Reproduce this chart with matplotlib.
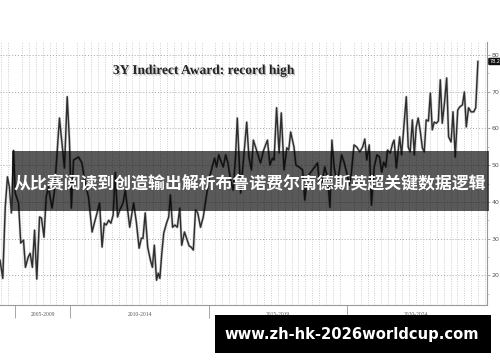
import matplotlib
matplotlib.use('Agg')
import matplotlib.pyplot as plt
import matplotlib.patheffects as pe
from matplotlib.patches import Rectangle
from matplotlib.ticker import MultipleLocator
import matplotlib.transforms as mtrans

# auction dates (decimal years) and indirect award share (%)
years = [
    2007.46, 2007.56, 2007.65, 2007.73, 2007.80, 2007.87, 2007.95, 2008.01, 2008.13, 2008.21,
    2008.31, 2008.38, 2008.48, 2008.55, 2008.63, 2008.71, 2008.79, 2008.89, 2008.96, 2009.05,
    2009.13, 2009.21, 2009.34, 2009.42, 2009.49, 2009.61, 2009.79, 2009.89, 2009.97, 2010.04,
    2010.12, 2010.30, 2010.42, 2010.54, 2010.66, 2010.79, 2010.88, 2010.97, 2011.06, 2011.15,
    2011.23, 2011.30, 2011.39, 2011.47, 2011.55, 2011.63, 2011.71, 2011.79, 2011.91, 2011.99,
    2012.15, 2012.29, 2012.39, 2012.49, 2012.57, 2012.63, 2012.71, 2012.80, 2012.90, 2012.97,
    2013.04, 2013.12, 2013.18, 2013.24, 2013.31, 2013.38, 2013.48, 2013.56, 2013.62, 2013.70,
    2013.78, 2013.87, 2013.96, 2014.03, 2014.13, 2014.23, 2014.30, 2014.37, 2014.45, 2014.53,
    2014.61, 2014.71, 2014.81, 2014.90, 2015.01, 2015.13, 2015.22, 2015.29, 2015.37, 2015.46,
    2015.53, 2015.62, 2015.70, 2015.80, 2015.89, 2015.98, 2016.04, 2016.16, 2016.27, 2016.38,
    2016.46, 2016.55, 2016.62, 2016.70, 2016.79, 2016.88, 2016.99, 2017.13, 2017.22, 2017.31,
    2017.37, 2017.46, 2017.55, 2017.63, 2017.73, 2017.83, 2017.90, 2017.97, 2018.09, 2018.16,
    2018.27, 2018.40, 2018.48, 2018.58, 2018.70, 2018.84, 2018.94, 2019.02, 2019.12, 2019.20,
    2019.30, 2019.39, 2019.46, 2019.54, 2019.64, 2019.72, 2019.81, 2019.90, 2020.00, 2020.08,
    2020.15, 2020.26, 2020.36, 2020.47, 2020.57, 2020.65, 2020.72, 2020.81, 2020.89, 2020.99,
    2021.09, 2021.18, 2021.26, 2021.33, 2021.41, 2021.47, 2021.57, 2021.66, 2021.71, 2021.79,
    2021.91, 2021.98, 2022.08, 2022.15, 2022.22, 2022.29, 2022.37, 2022.44, 2022.51, 2022.58,
    2022.66, 2022.73, 2022.80, 2022.87, 2022.95, 2023.02, 2023.09, 2023.16, 2023.24, 2023.31,
    2023.38, 2023.45, 2023.53, 2023.61, 2023.68, 2023.77, 2023.84, 2023.92, 2024.01, 2024.08,
    2024.18, 2024.25, 2024.32, 2024.40, 2024.49, 2024.59, 2024.66, 2024.74,
]
award = [
    24.1, 19.2, 38.6, 46.8, 44.0, 37.0, 54.0, 42.4, 39.7, 28.8,
    29.6, 22.2, 25.0, 26.0, 22.2, 32.3, 19.0, 35.9, 35.6, 30.4,
    41.3, 44.0, 38.3, 42.4, 49.5, 62.8, 49.2, 68.6, 56.8, 38.3,
    51.4, 52.2, 50.6, 45.1, 41.3, 31.8, 34.5, 37.0, 39.7, 27.7,
    34.2, 33.7, 35.0, 34.2, 36.4, 48.0, 35.9, 37.8, 39.7, 43.2,
    33.1, 39.7, 34.5, 27.4, 30.1, 30.1, 37.0, 27.7, 24.1, 22.2,
    28.2, 18.7, 20.6, 19.2, 26.0, 31.5, 34.2, 35.9, 41.9, 33.1,
    33.7, 33.1, 38.3, 28.2, 31.8, 29.6, 28.0, 27.7, 26.9, 37.8,
    37.0, 33.1, 35.9, 40.5, 45.9, 49.5, 51.9, 49.5, 52.8, 50.8,
    49.5, 52.8, 50.6, 45.9, 43.2, 52.8, 62.8, 42.4, 52.0, 61.7,
    52.2, 48.7, 56.8, 54.9, 52.8, 50.6, 54.0, 56.8, 50.0, 51.9,
    51.4, 65.6, 53.3, 64.2, 48.7, 54.7, 54.1, 59.0, 54.9, 50.0,
    49.5, 48.7, 40.5, 46.8, 48.1, 49.5, 50.6, 44.0, 45.9, 49.5,
    46.8, 38.5, 56.8, 49.5, 45.1, 48.1, 52.8, 50.8, 47.8, 44.6,
    46.8, 55.5, 54.9, 53.6, 54.9, 57.1, 51.4, 55.5, 39.1, 49.5,
    52.8, 52.2, 48.1, 50.8, 49.5, 54.1, 53.3, 56.0, 56.8, 49.2,
    57.7, 52.8, 62.3, 68.6, 54.9, 53.6, 62.3, 52.8, 60.4, 62.8,
    59.0, 54.7, 53.6, 62.3, 62.0, 69.6, 59.6, 61.7, 61.4, 62.0,
    73.2, 61.4, 66.9, 73.7, 57.7, 56.3, 64.5, 52.2, 65.0, 65.8,
    66.4, 69.9, 60.4, 65.6, 64.5, 64.5, 65.6, 78.2,
]

period_edges = [2008, 2010, 2015, 2020]
period_labels = ['2005-2009', '2010-2014', '2015-2019', '2020-2024']
period_mids = [2009, 2012.5, 2017.5, 2022.5]
y_ticks = [20, 30, 40, 50, 60, 70, 80]

title = '3Y Indirect Award: record high'
banner = '从比赛阅读到创造输出解析布鲁诺费尔南德斯英超关键数据逻辑'
site = 'www.zh-hk-2026worldcup.com'

fig = plt.figure(figsize=(5, 3.62), dpi=100, facecolor='white')
ax = fig.add_axes([0, 0.157, 0.973, 0.727])
ax.set_facecolor('white')

# soft grey halo under the series, like the blurry source screenshot
ax.plot(years, award, color='#2e2e2e', lw=1.05, zorder=3,
        path_effects=[pe.Stroke(linewidth=2.0, foreground='#b5b5b5', alpha=0.6), pe.Normal()])

ax.set_xlim(2007.46, 2025.05)
ax.set_ylim(11.9, 83.5)

# right-hand y axis
ax.yaxis.tick_right()
ax.set_yticks(y_ticks)
ax.yaxis.set_minor_locator(MultipleLocator(5))
ax.tick_params(axis='y', which='major', direction='out', length=2.5, width=0.5,
               colors='#888888', labelsize=4.5, labelcolor='#555555', pad=1)
ax.tick_params(axis='y', which='minor', direction='out', length=1.5, width=0.4, colors='#999999')

# x axis: period separators, labels centred between them
ax.set_xticks(period_edges)
ax.set_xticklabels([])
ax.xaxis.set_minor_locator(MultipleLocator(0.25))
ax.tick_params(axis='x', which='major', direction='out', length=9.5, width=0.6, colors='#999999')
ax.tick_params(axis='x', which='minor', length=0)
trans = mtrans.blended_transform_factory(ax.transData, ax.transAxes)
for mid, lab in zip(period_mids, period_labels):
    ax.text(mid, -0.034, lab, transform=trans, ha='center', va='center',
            fontsize=4, color='#555555', family='Liberation Serif')

ax.grid(axis='y', which='major', ls=(0, (1, 2)), color='#a5a5a5', lw=0.7)
ax.grid(axis='x', which='minor', ls=(0, (1, 1.8)), color='#bdbdbd', lw=0.6)

for side in ['top', 'left']:
    ax.spines[side].set_visible(False)
ax.spines['right'].set_color('#999999')
ax.spines['bottom'].set_color('#999999')
ax.spines['right'].set_linewidth(0.8)
ax.spines['bottom'].set_linewidth(0.8)

# last value tag on the axis
ax.annotate(f'{award[-1]:.1f}', xy=(1.0, award[-1]), xycoords=('axes fraction', 'data'),
            xytext=(6, 0), textcoords='offset points', ha='center', va='center',
            fontsize=3.5, color='white',
            bbox=dict(boxstyle='round,pad=0.25', fc='#111111', ec='none'))

fig.text(0.408, 0.804, title, ha='center', va='center', fontsize=9.7,
         family='Liberation Serif', weight='bold', color='#222222',
         path_effects=[pe.withSimplePatchShadow(offset=(1, -1), shadow_rgbFace='#666666', alpha=0.4)])

# overlay banners
fig.add_artist(Rectangle((0.024, 0.417), 0.954, 0.166, transform=fig.transFigure,
                         facecolor='black', alpha=0.65, edgecolor='none', zorder=10))
fig.text(0.5, 0.4945, banner, ha='center', va='center', fontsize=12.2, weight='bold',
         color='white', family=['Noto Sans CJK SC', 'DejaVu Sans'], zorder=11)

fig.add_artist(Rectangle((0.43, 0.025), 0.552, 0.105, transform=fig.transFigure,
                         facecolor='black', edgecolor='none', zorder=10))
fig.text(0.704, 0.077, site, ha='center', va='center', fontsize=10.6, weight='bold',
         color='white', family='DejaVu Sans', zorder=11)

fig.savefig('out.png', dpi=100, facecolor='white')
